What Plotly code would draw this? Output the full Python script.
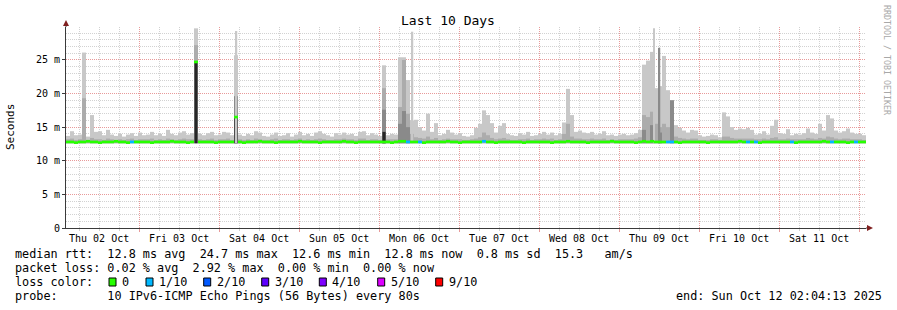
import plotly.graph_objects as go
from datetime import datetime, timedelta

# ---------------- data ----------------
start_time = datetime(2025, 10, 2, 2, 4, 13)
end_time = datetime(2025, 10, 12, 2, 4, 13)
n_bins = 200  # 72-minute consolidation steps

smoke_min_ms = 12.6
smoke_top_ms = [
    13.7, 14.4, 13.8, 13.9, 26.1, 13.6, 16.8, 14.3, 14.4, 13.8, 14.6, 13.9, 13.7, 14.0, 13.6, 13.9, 14.1, 13.7, 14.2, 13.8,
    13.9, 14.3, 13.8, 14.0, 13.7, 14.6, 14.0, 13.8, 14.2, 14.4, 13.9, 14.1, 29.7, 14.0, 13.8, 14.1, 14.3, 13.8, 13.9, 14.3,
    14.2, 13.8, 25.7, 13.9, 13.7, 14.0, 13.8, 14.4, 14.2, 13.7, 13.6, 13.9, 14.2, 13.7, 13.8, 14.1, 13.6, 13.9, 14.3, 13.8,
    14.0, 13.7, 14.2, 14.4, 14.0, 13.8, 13.6, 14.1, 13.9, 14.2, 13.9, 14.0, 13.7, 14.3, 14.4, 13.8, 14.1, 13.9, 13.7, 24.2,
    13.8, 14.0, 13.9, 25.4, 25.4, 22.0, 16.0, 16.1, 15.0, 14.5, 17.0, 14.3, 15.6, 13.8, 14.0, 14.6, 14.2, 13.9, 14.1, 13.7,
    13.6, 13.8, 14.9, 15.5, 17.5, 16.8, 15.6, 14.2, 15.2, 15.6, 14.0, 13.8, 13.7, 14.1, 13.9, 14.3, 13.7, 13.8, 14.0, 14.3,
    13.9, 14.2, 13.8, 14.0, 15.7, 20.7, 16.8, 14.3, 14.5, 14.2, 14.1, 14.3, 13.9, 14.0, 14.4, 13.8, 13.9, 13.7, 13.9, 14.0,
    13.8, 13.9, 14.1, 14.6, 24.3, 24.9, 26.2, 20.8, 21.1, 25.6, 20.5, 19.0, 15.3, 14.9, 14.5, 14.2, 14.6, 14.5, 13.8, 13.6,
    13.7, 13.9, 13.8, 13.5, 17.2, 16.6, 15.0, 14.6, 14.8, 14.7, 14.9, 14.6, 13.9, 14.0, 14.4, 13.9, 15.2, 16.1, 14.1, 14.0,
    14.7, 13.8, 14.0, 13.9, 14.1, 14.8, 14.2, 14.0, 15.5, 14.5, 16.8, 16.3, 14.5, 14.2, 14.4, 14.8, 14.2, 14.0, 14.0, 13.8,
]
smoke_mid_ms = [
    13.2, 13.3, 13.1, 13.2, 19.3, 13.1, 13.4, 13.2, 13.2, 13.1, 13.3, 13.2, 13.1, 13.2, 13.1, 13.2, 13.3, 13.1, 13.2, 13.2,
    13.2, 13.3, 13.1, 13.2, 13.1, 13.3, 13.2, 13.1, 13.2, 13.3, 13.2, 13.2, 27.2, 13.2, 13.1, 13.2, 13.3, 13.1, 13.2, 13.2,
    13.3, 13.1, 19.6, 13.2, 13.1, 13.2, 13.1, 13.3, 13.2, 13.1, 13.1, 13.2, 13.3, 13.1, 13.2, 13.2, 13.1, 13.2, 13.3, 13.1,
    13.2, 13.1, 13.2, 13.3, 13.2, 13.1, 13.1, 13.2, 13.2, 13.3, 13.2, 13.2, 13.1, 13.3, 13.3, 13.1, 13.2, 13.2, 13.1, 20.8,
    13.2, 13.2, 13.2, 18.0, 25.0, 17.0, 14.0, 13.5, 13.4, 13.3, 13.6, 13.2, 13.4, 13.1, 13.2, 13.3, 13.2, 13.2, 13.2, 13.1,
    13.1, 13.2, 13.3, 13.5, 14.2, 13.8, 13.4, 13.2, 13.3, 13.4, 13.2, 13.1, 13.1, 13.2, 13.2, 13.3, 13.1, 13.2, 13.2, 13.3,
    13.2, 13.3, 13.1, 13.2, 14.0, 15.5, 13.6, 13.3, 13.3, 13.2, 13.2, 13.3, 13.2, 13.2, 13.3, 13.1, 13.2, 13.1, 13.2, 13.2,
    13.2, 13.2, 13.3, 13.5, 16.8, 16.5, 17.3, 15.5, 15.0, 15.5, 15.0, 15.0, 13.6, 13.4, 13.3, 13.2, 13.3, 13.3, 13.1, 13.1,
    13.1, 13.2, 13.2, 13.1, 13.6, 13.6, 13.4, 13.3, 13.3, 13.3, 13.3, 13.3, 13.2, 13.2, 13.3, 13.2, 13.4, 13.5, 13.2, 13.2,
    13.3, 13.2, 13.2, 13.2, 13.2, 13.4, 13.3, 13.2, 13.4, 13.3, 13.6, 13.5, 13.3, 13.2, 13.3, 13.3, 13.2, 13.2, 13.2, 13.1,
]
median_ms = [
    12.8, 12.8, 12.7, 12.8, 12.8, 12.9, 12.8, 12.8, 12.7, 12.8, 12.8, 12.8, 12.9, 12.8, 12.8, 12.7, 12.8, 12.8, 12.8, 12.8,
    12.8, 12.7, 12.8, 12.8, 12.8, 12.8, 12.9, 12.8, 12.8, 12.8, 12.7, 12.8, 24.7, 12.8, 12.8, 12.8, 12.8, 12.7, 12.8, 12.8,
    12.8, 12.8, 16.5, 12.8, 12.7, 12.8, 12.8, 12.8, 12.9, 12.8, 12.8, 12.8, 12.7, 12.8, 12.8, 12.8, 12.8, 12.8, 12.9, 12.8,
    12.8, 12.8, 12.8, 12.7, 12.8, 12.8, 12.8, 12.8, 12.8, 12.9, 12.8, 12.8, 12.7, 12.8, 12.8, 12.8, 12.8, 12.8, 12.8, 12.8,
    12.8, 12.7, 12.8, 12.9, 12.9, 12.8, 12.8, 12.8, 12.8, 12.7, 12.8, 12.8, 12.8, 12.8, 12.8, 12.9, 12.8, 12.8, 12.7, 12.8,
    12.8, 12.8, 12.8, 12.8, 12.9, 12.8, 12.8, 12.7, 12.8, 12.8, 12.8, 12.8, 12.8, 12.8, 12.7, 12.8, 12.8, 12.8, 12.8, 12.8,
    12.8, 12.7, 12.8, 12.8, 12.8, 12.9, 12.8, 12.8, 12.8, 12.8, 12.7, 12.8, 12.8, 12.8, 12.8, 12.8, 12.9, 12.8, 12.8, 12.8,
    12.8, 12.8, 12.7, 12.8, 12.9, 12.8, 12.9, 12.8, 12.8, 12.8, 12.8, 12.8, 12.8, 12.7, 12.8, 12.8, 12.8, 12.8, 12.8, 12.8,
    12.7, 12.8, 12.8, 12.8, 12.8, 12.8, 12.8, 12.8, 12.9, 12.8, 12.8, 12.8, 12.8, 12.7, 12.8, 12.8, 12.8, 12.8, 12.8, 12.8,
    12.8, 12.8, 12.7, 12.8, 12.8, 12.8, 12.8, 12.8, 12.8, 12.9, 12.8, 12.8, 12.8, 12.8, 12.8, 12.7, 12.8, 12.8, 12.8, 12.8,
]
dark_bins = [42, 79, 83, 84, 85, 144, 146, 148, 151]
dark_top_ms = [19.6, 17.6, 15.5, 17.4, 15.0, 14.6, 15.3, 14.2, 19.0]
core_bins = [32, 42, 79]
core_top_ms = [24.7, 16.5, 14.3]
loss_bins = [16, 85, 88, 104, 150, 151, 170, 172, 181, 191, 197]
loss_tenths = [1, 1, 1, 1, 1, 1, 1, 1, 1, 1, 1]
thin_hours = [51.15, 103.95, 176.4]
thin_top_ms = [29.3, 29.2, 29.7]
thin_dark_hours = [178.05]
thin_dark_top_ms = [26.8]

y_tick_ms = [0, 5, 10, 15, 20, 25]
y_tick_text = ["0", "5 m", "10 m", "15 m", "20 m", "25 m"]
loss_legend_labels = ["0", "1/10", "2/10", "3/10", "4/10", "5/10", "9/10"]
loss_legend_tenths = [0, 1, 2, 3, 4, 5, 9]

stats_median = dict(avg="12.8 ms", max="24.7 ms", min="12.6 ms", now="12.8 ms", sd="0.8 ms", ams="15.3")
stats_loss = dict(avg="0.02 %", max="2.92 %", min="0.00 %", now="0.00 %")
probe_text = "10 IPv6-ICMP Echo Pings (56 Bytes) every 80s"

# ---------------- style ----------------
LOSS_COLORS = {0: "#26ff00", 1: "#00b8ff", 2: "#0059ff", 3: "#5e00ff",
               4: "#7e00ff", 5: "#dd00ff", 9: "#ff0000"}
C_LIGHT, C_MID, C_DARK, C_CORE = "#c8c8c8", "#acacac", "#8a8a8a", "#262626"
MED_HALF = 0.2  # half thickness of median band (ms)
MONO = "DejaVu Sans Mono"
W, H = 897, 310
L, R, T, B = 66, 31, 27, 82
PW, PH = W - L - R, H - T - B
Y_MAX_MS = 29.9

def px(xpix):
    return (xpix - L) / PW

def py(ypix):
    return (H - B - ypix) / PH

bin_dur = (end_time - start_time) / n_bins
bin_ms = bin_dur.total_seconds() * 1000
centers = [start_time + bin_dur * (i + 0.5) for i in range(n_bins)]

def band(xs, lo, hi, color, width):
    return go.Bar(x=xs, base=[v / 1000 for v in lo],
                  y=[(h - l) / 1000 for h, l in zip(hi, lo)],
                  width=width, marker=dict(color=color, line=dict(width=0)),
                  hoverinfo="skip", showlegend=False)

fig = go.Figure()
fig.add_trace(band(centers, [smoke_min_ms] * n_bins, smoke_top_ms, C_LIGHT, bin_ms))
fig.add_trace(band(centers, [smoke_min_ms] * n_bins, smoke_mid_ms, C_MID, bin_ms))
fig.add_trace(band([centers[i] for i in dark_bins], [smoke_min_ms] * len(dark_bins),
                   dark_top_ms, C_DARK, bin_ms))
fig.add_trace(band([centers[i] for i in core_bins], [smoke_min_ms] * len(core_bins),
                   core_top_ms, C_CORE, bin_ms * 0.8))
thin_w = 0.45 * 3600 * 1000
fig.add_trace(band([start_time + timedelta(hours=h) for h in thin_hours],
                   [smoke_min_ms] * len(thin_hours), thin_top_ms, C_LIGHT, thin_w))
fig.add_trace(band([start_time + timedelta(hours=h) for h in thin_dark_hours],
                   [smoke_min_ms] * len(thin_dark_hours), thin_dark_top_ms, C_DARK, thin_w))

loss_by_bin = dict(zip(loss_bins, loss_tenths))
med_colors = [LOSS_COLORS[loss_by_bin.get(i, 0)] for i in range(n_bins)]
fig.add_trace(go.Bar(x=centers, base=[(m - MED_HALF) / 1000 for m in median_ms],
                     y=[2 * MED_HALF / 1000] * n_bins, width=bin_ms,
                     marker=dict(color=med_colors, line=dict(width=0)),
                     hoverinfo="skip", showlegend=False))

GRID = "#d2d2d2"
MGRID = "#e89a9a"
AXIS = "#3a3a3a"
ARROW = "#802020"

# minor grid positions that do not coincide with the major (red) ones
day0 = datetime(2025, 10, 2)
x_minor = [day0 + timedelta(hours=6 * k) for k in range(0, 4 * 11) if k % 4 != 0]
y_minor = [k / 1000 for k in range(0, 30) if k % 5 != 0]

fig.update_layout(
    width=W, height=H, margin=dict(l=L, r=R, t=T, b=B),
    paper_bgcolor="white", plot_bgcolor="white", barmode="overlay",
    showlegend=False, font=dict(family=MONO, size=10, color="#000"),
    title=dict(text="Last 10 Days", x=448 / W, xref="container", xanchor="center",
               y=1 - 20 / H, yref="container", yanchor="middle",
               font=dict(family=MONO, size=13, color="#000")),
    xaxis=dict(type="date", range=[start_time, end_time], tick0="2025-10-02",
               dtick=86400000, ticklabelmode="period", tickformat="%a %d %b",
               showgrid=True, gridcolor=MGRID, griddash="1px,1px", gridwidth=1,
               ticks="outside", ticklen=3, tickcolor=MGRID, showline=True,
               linecolor=AXIS, linewidth=1, zeroline=False, fixedrange=True,
               ticklabelstandoff=-2,
               tickfont=dict(family=MONO, size=10, color="#000"),
               minor=dict(tickmode="array", tickvals=x_minor, showgrid=True,
                          gridcolor=GRID, griddash="1px,1px", gridwidth=1,
                          ticks="outside", ticklen=2, tickcolor=GRID)),
    yaxis=dict(range=[0, Y_MAX_MS / 1000], tickvals=[v / 1000 for v in y_tick_ms],
               ticktext=y_tick_text, showgrid=True, gridcolor=MGRID,
               griddash="1px,1px", gridwidth=1, ticks="outside", ticklen=3,
               tickcolor=AXIS, showline=True, linecolor=AXIS, linewidth=1,
               zeroline=False, fixedrange=True,
               tickfont=dict(family=MONO, size=10, color="#000"),
               minor=dict(tickmode="array", tickvals=y_minor, showgrid=True,
                          gridcolor=GRID, griddash="1px,1px", gridwidth=1)),
)

# axis extensions & arrows
shapes = [
    dict(type="line", xref="paper", yref="paper", x0=0, x1=0, y0=1, y1=py(24),
         line=dict(color=AXIS, width=1)),
    dict(type="line", xref="paper", yref="paper", x0=1, x1=px(868), y0=0, y1=0,
         line=dict(color=AXIS, width=1)),
    dict(type="path", xref="paper", yref="paper",
         path=f"M {px(63)} {py(26)} L {px(69)} {py(26)} L {px(66)} {py(20)} Z",
         fillcolor=ARROW, line=dict(width=0)),
    dict(type="path", xref="paper", yref="paper",
         path=f"M {px(867)} {py(225)} L {px(867)} {py(231)} L {px(873)} {py(228)} Z",
         fillcolor=ARROW, line=dict(width=0)),
]

NB = "\u00a0"
def ann(text, xpix, ypix, size=11.8, color="#000", xanchor="left", angle=0):
    return dict(text=text.replace(" ", NB), xref="paper", yref="paper",
                x=px(xpix), y=py(ypix), xanchor=xanchor, yanchor="middle",
                showarrow=False, textangle=angle, borderpad=0, borderwidth=0,
                font=dict(family=MONO, size=size, color=color))

line1 = (f"median rtt:  {stats_median['avg']} avg  {stats_median['max']} max  "
         f"{stats_median['min']} min  {stats_median['now']} now  {stats_median['sd']} sd  "
         f"{stats_median['ams']}   am/s")
line2 = (f"packet loss: {stats_loss['avg']} avg  {stats_loss['max']} max  "
         f"{stats_loss['min']} min  {stats_loss['now']} now")
line4 = f"probe:       {probe_text}"

annotations = [
    ann("Seconds", 11, 127, size=11, angle=-90, xanchor="center"),
    ann("RRDTOOL / TOBI OETIKER", 887, 60, size=8.3, color="#a8a8a8",
        xanchor="center", angle=90),
    ann(line1, 15, 254),
    ann(line2, 15, 268),
    ann("loss color:", 15, 282),
    ann(line4, 15, 296),
    ann("end: Sun Oct 12 02:04:13 2025", 882, 296, xanchor="right"),
]
sq_left = [109, 146, 203.7, 261.7, 319.3, 377.7, 435.7]
for xl, lab, t in zip(sq_left, loss_legend_labels, loss_legend_tenths):
    shapes.append(dict(type="rect", xref="paper", yref="paper",
                       x0=px(xl), x1=px(xl + 7), y0=py(278), y1=py(286),
                       fillcolor=LOSS_COLORS[t], line=dict(color="#000", width=1)))
    annotations.append(ann(lab, xl + 13, 282))

fig.update_layout(shapes=shapes, annotations=annotations)
fig.write_html("out.html")
